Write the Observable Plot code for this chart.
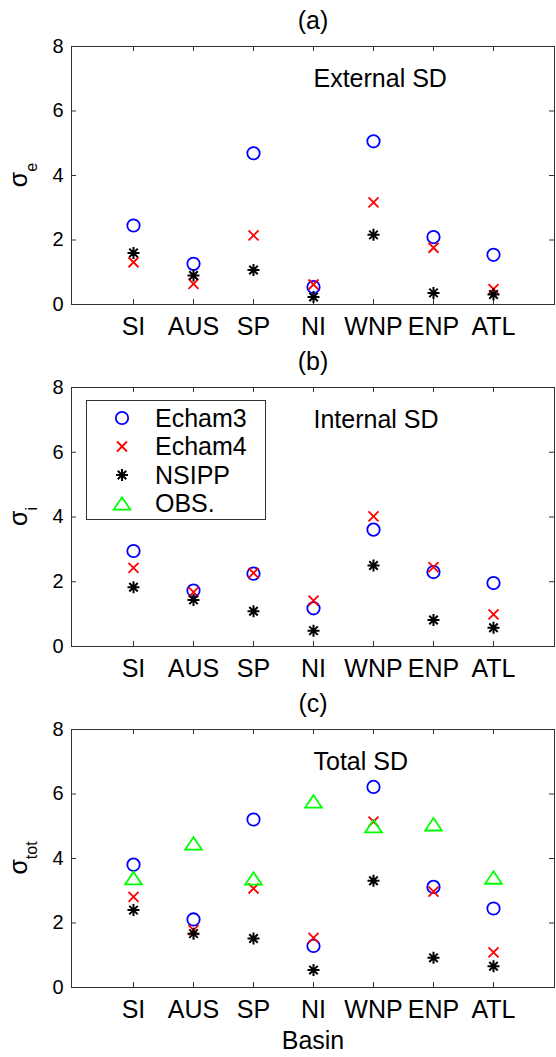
<!DOCTYPE html>
<html><head><meta charset="utf-8">
<script src="https://cdn.jsdelivr.net/npm/d3@7"></script>
<script src="https://cdn.jsdelivr.net/npm/@observablehq/plot@0.6"></script>
<style>
body{margin:0;background:#fff;}
#wrap{position:relative;width:556px;height:1057px;overflow:hidden;background:#fff;}
#wrap svg{position:absolute;left:0;}
</style></head><body><div id="wrap"></div>
<script>
// ---- data ----
const basins = ["SI", "AUS", "SP", "NI", "WNP", "ENP", "ATL"];
const yTicks = [0, 2, 4, 6, 8];
const seriesNames = ["Echam3", "Echam4", "NSIPP", "OBS."];

// (a) External SD
const echam3Ext = [2.45, 1.26, 4.69, 0.54, 5.06, 2.09, 1.54];
const echam4Ext = [1.31, 0.64, 2.14, 0.62, 3.17, 1.76, 0.48];
const nsippExt  = [1.60, 0.90, 1.07, 0.23, 2.16, 0.36, 0.31];
// (b) Internal SD
const echam3Int = [2.95, 1.73, 2.25, 1.18, 3.61, 2.30, 1.96];
const echam4Int = [2.43, 1.68, 2.27, 1.42, 4.02, 2.45, 0.99];
const nsippInt  = [1.83, 1.44, 1.09, 0.49, 2.50, 0.82, 0.58];
// (c) Total SD
const echam3Tot = [3.81, 2.11, 5.21, 1.29, 6.22, 3.12, 2.45];
const echam4Tot = [2.81, 1.78, 3.07, 1.54, 5.14, 2.97, 1.09];
const nsippTot  = [2.40, 1.67, 1.52, 0.54, 3.31, 0.92, 0.66];
const obsTot    = [3.39, 4.47, 3.38, 5.77, 5.00, 5.06, 3.41];

// ---- styles ----
const FONT = '"Liberation Sans", Arial, Helvetica, sans-serif';
const AX = "#333";
const symCircle = {draw(c, size) { const r = Math.sqrt(size / Math.PI); c.moveTo(r, 0); c.arc(0, 0, r, 0, 2 * Math.PI); }};
const symTimes = {draw(c, size) { const r = Math.sqrt(size / Math.PI); c.moveTo(-r, -r); c.lineTo(r, r); c.moveTo(-r, r); c.lineTo(r, -r); }};
const symStar = {draw(c, size) { const r = Math.sqrt(size / Math.PI), d = r * Math.SQRT1_2;
  c.moveTo(0, -r); c.lineTo(0, r); c.moveTo(-r, 0); c.lineTo(r, 0);
  c.moveTo(-d, -d); c.lineTo(d, d); c.moveTo(-d, d); c.lineTo(d, -d); }};
const symTri = {draw(c, size) { const r = Math.sqrt(size / Math.PI), w = r * 1.35;
  c.moveTo(0, -r); c.lineTo(w, r); c.lineTo(-w, r); c.closePath(); }};
const style = {
  "Echam3": {symbol: symCircle, stroke: "#0000ff", r: 6.2, sw: 1.8},
  "Echam4": {symbol: symTimes, stroke: "#ff0000", r: 5, sw: 1.8},
  "NSIPP":  {symbol: symStar,  stroke: "#000000", r: 6, sw: 2},
  "OBS.":   {symbol: symTri,   stroke: "#00ff00", r: 6.2, sw: 1.8}
};

const W = 556, ML = 71, MR = 2;
const wrap = document.getElementById("wrap");

function panel({top, height, mt, mb, sets, title, sub, note, xlabel}) {
  const rows = [];
  sets.forEach(([name, arr]) => arr.forEach((v, i) => rows.push({basin: basins[i], value: v, series: name})));
  const H = height - mt - mb, FW = W - ML - MR;
  const marks = [
    Plot.tickX(basins, {x: d => d, insetTop: H - 5, stroke: AX}),
    Plot.tickX(basins, {x: d => d, insetBottom: H - 5, stroke: AX}),
    Plot.tickY(yTicks, {y: d => d, insetRight: FW - 5, stroke: AX}),
    Plot.tickY(yTicks, {y: d => d, insetLeft: FW - 5, stroke: AX}),
    Plot.frame({stroke: AX}),
    Plot.axisX(basins, {tickSize: 0, tickPadding: 13, fontSize: 25, fill: "#000", label: null}),
    Plot.axisY(yTicks, {tickSize: 0, tickPadding: 8, fontSize: 20, fill: "#000", label: null}),
    Plot.text([title], {frameAnchor: "top", lineAnchor: "middle", dy: -26, fontSize: 25, fill: "#000"}),
    Plot.text([note], {x: () => "NI", y: () => 7, textAnchor: "start", lineAnchor: "middle", fontSize: 25, fill: "#000"})
  ];
  if (xlabel) marks.push(Plot.text([xlabel], {frameAnchor: "bottom", lineAnchor: "middle", dy: 53, fontSize: 25, fill: "#000"}));
  for (const name of seriesNames) {
    const s = style[name];
    const data = rows.filter(d => d.series === name);
    if (!data.length) continue;
    marks.push(Plot.dot(data, {x: "basin", y: "value", symbol: s.symbol, r: s.r, stroke: s.stroke, fill: "none", strokeWidth: s.sw}));
  }
  const svg = Plot.plot({
    width: W, height, marginTop: mt, marginBottom: mb, marginLeft: ML, marginRight: MR,
    style: {fontFamily: FONT, fontSize: "20px", background: "#fff", overflow: "visible"},
    x: {type: "point", domain: basins, padding: 1, axis: null},
    y: {domain: [0, 8], axis: null, label: null},
    marks
  });
  svg.style.top = top + "px";
  // y label with subscript
  const cy = mt + H / 2;
  const t = d3.select(svg).append("text")
    .attr("transform", `translate(27,${cy}) rotate(-90)`)
    .attr("text-anchor", "middle")
    .attr("font-family", FONT).attr("fill", "#000");
  t.append("tspan").attr("font-size", 25).text("σ");
  t.append("tspan").attr("font-size", 16).attr("dy", 10).text(sub);
  wrap.appendChild(svg);
  return svg;
}

panel({top: 0, height: 340, mt: 46, mb: 36, title: "(a)", sub: "e", note: "External SD",
  sets: [["Echam3", echam3Ext], ["Echam4", echam4Ext], ["NSIPP", nsippExt]]});
panel({top: 340, height: 340, mt: 47, mb: 34, title: "(b)", sub: "i", note: "Internal SD",
  sets: [["Echam3", echam3Int], ["Echam4", echam4Int], ["NSIPP", nsippInt]]});
panel({top: 680, height: 377, mt: 49, mb: 70, title: "(c)", sub: "tot", note: "Total SD", xlabel: "Basin",
  sets: [["Echam3", echam3Tot], ["Echam4", echam4Tot], ["NSIPP", nsippTot], ["OBS.", obsTot]]});

// legend box in panel (b)
const lg = d3.select(wrap).append("svg")
  .attr("width", 181).attr("height", 121)
  .style("left", "85.5px").style("top", "399.5px");
lg.append("rect").attr("x", 0.5).attr("y", 0.5).attr("width", 179).attr("height", 119)
  .attr("fill", "#fff").attr("stroke", AX);
seriesNames.forEach((name, i) => {
  const s = style[name];
  const cy = 18 + i * 28.5;
  lg.append("path")
    .attr("d", d3.symbol(s.symbol, s.r * s.r * Math.PI)())
    .attr("transform", `translate(36,${cy})`)
    .attr("fill", "none").attr("stroke", s.stroke).attr("stroke-width", s.sw);
  lg.append("text").attr("x", 69).attr("y", cy + 8.5)
    .attr("font-family", FONT).attr("font-size", 25).attr("fill", "#000").text(name);
});
</script></body></html>
